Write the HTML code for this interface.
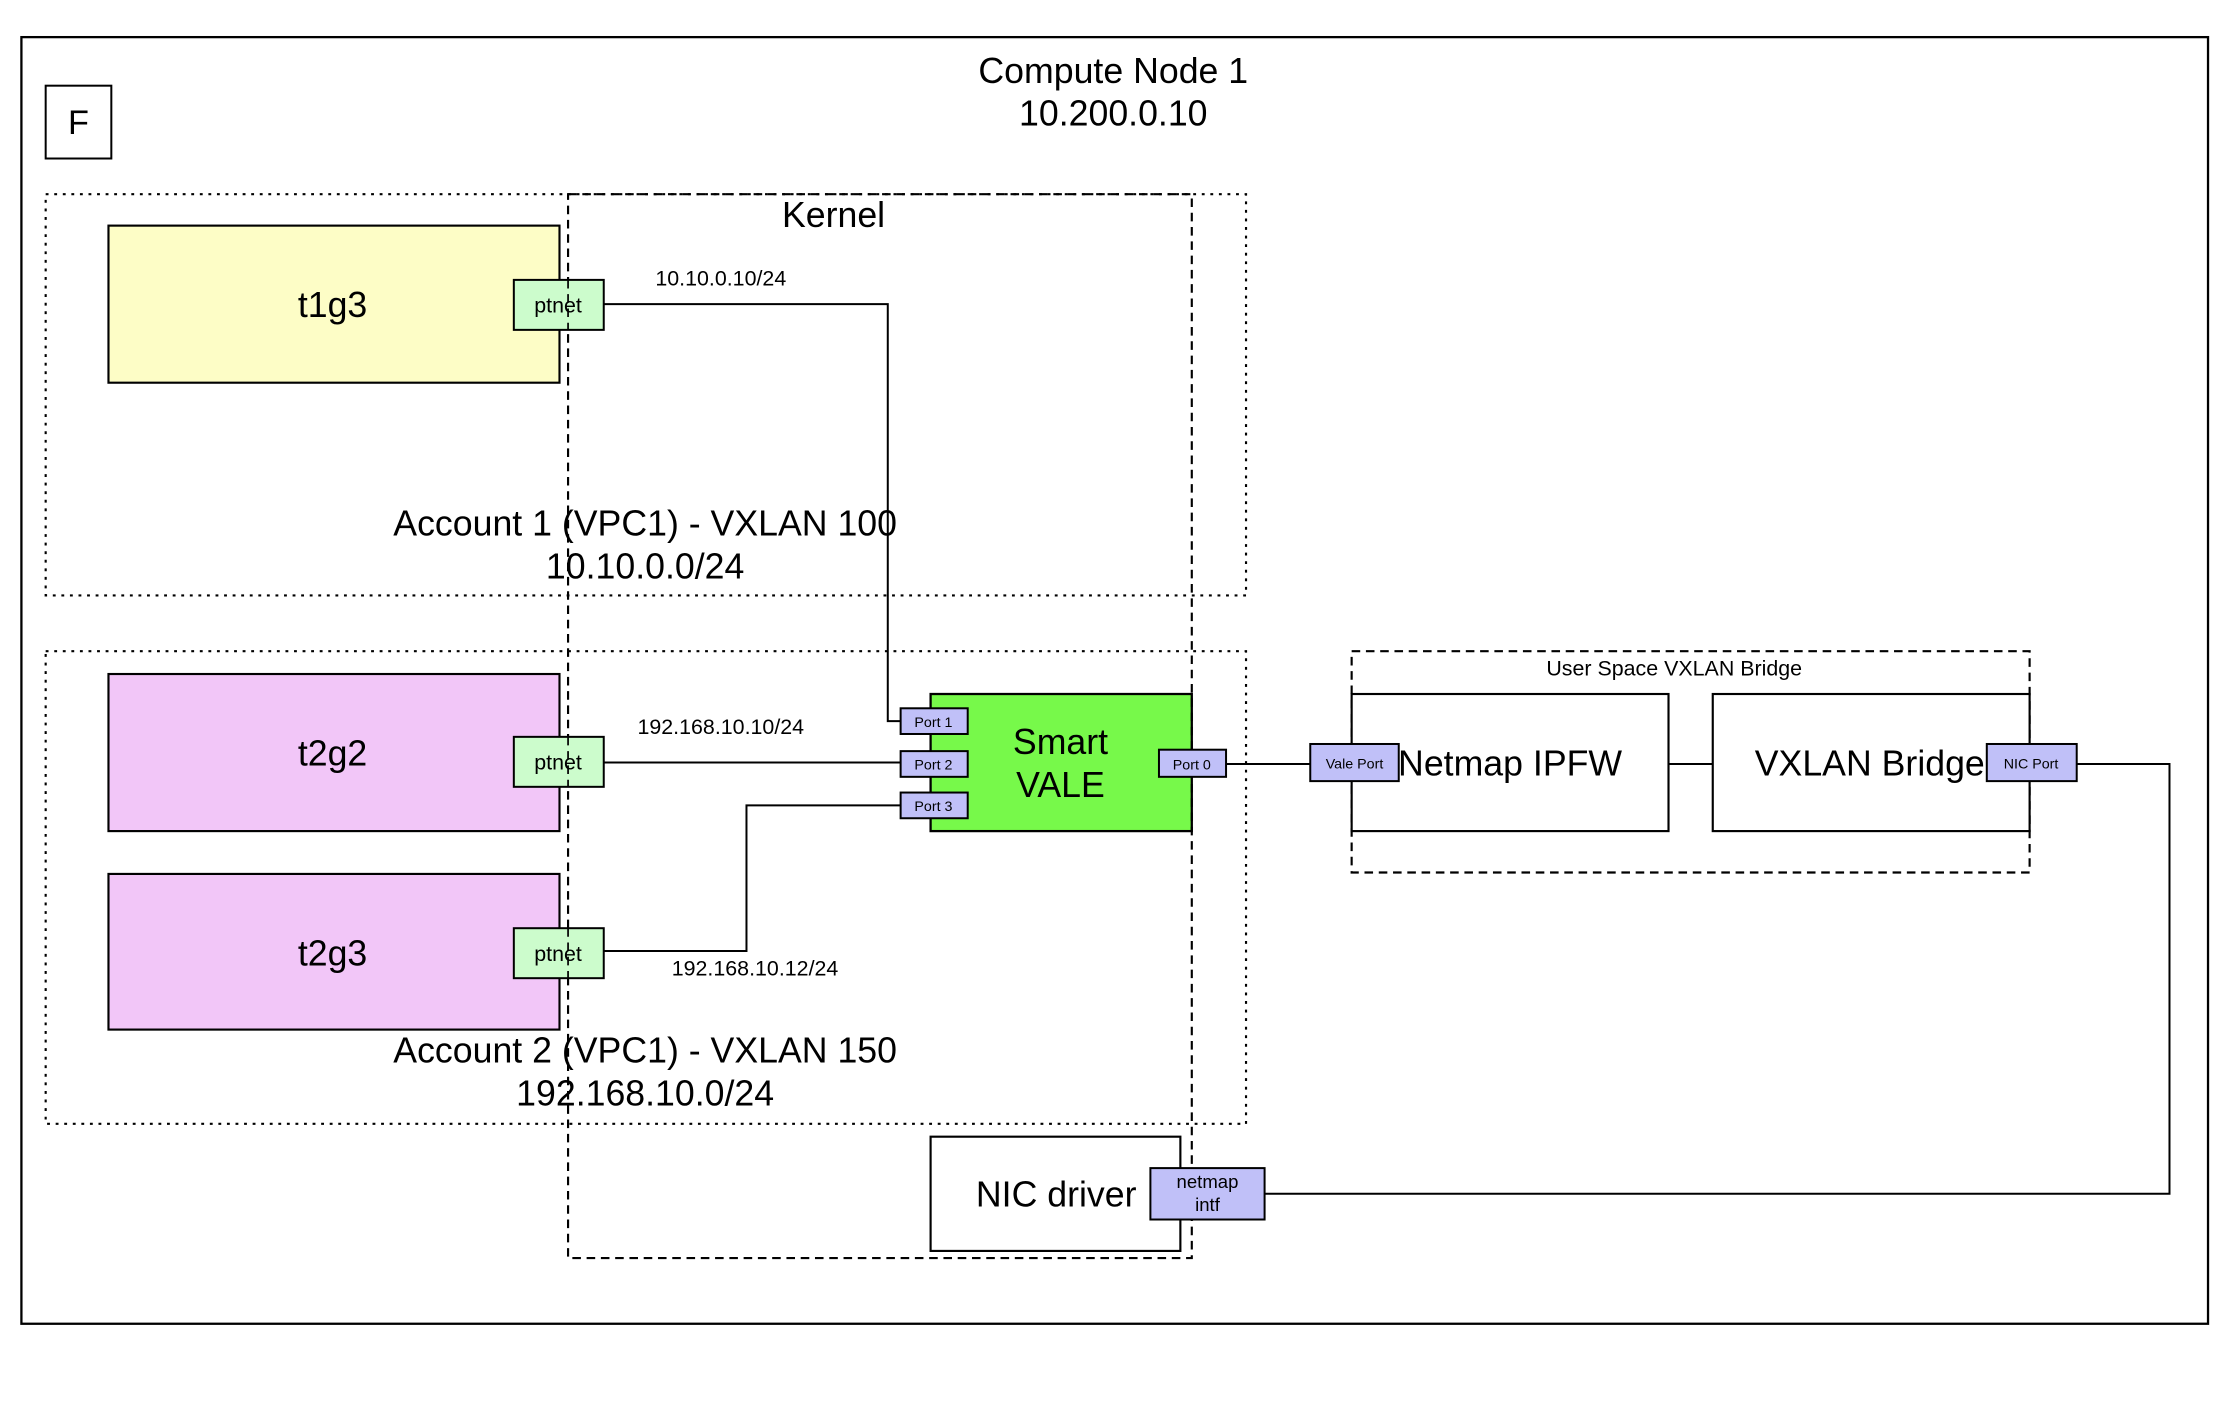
<!DOCTYPE html>
<html><head><meta charset="utf-8"><style>html,body{margin:0;padding:0;background:#fff}svg{display:block}</style></head>
<body>
<svg width="2238" height="1428" viewBox="0 0 1568 1000" preserveAspectRatio="none" xmlns="http://www.w3.org/2000/svg" font-family="Liberation Sans, sans-serif" text-anchor="middle">
<rect width="1568" height="1000" fill="#fff"/>
<rect x="15" y="26" width="1532" height="901" fill="none" stroke="#000" stroke-width="1.6"/>
<rect x="32" y="60" width="46" height="51" fill="none" stroke="#000" stroke-width="1.4"/>
<text x="55" y="94" font-size="24">F</text>
<text x="780" y="58" font-size="25">Compute Node 1</text>
<text x="780" y="88" font-size="25">10.200.0.10</text>
<rect x="32" y="136" width="841" height="281" fill="none" stroke="#000" stroke-width="1.5" stroke-dasharray="2,4"/>
<rect x="32" y="456" width="841" height="331" fill="none" stroke="#000" stroke-width="1.5" stroke-dasharray="2,4"/>
<rect x="76" y="158" width="316" height="110" fill="#fdfdc6" stroke="#000" stroke-width="1.5"/>
<text x="233" y="222" font-size="25">t1g3</text>
<rect x="76" y="472" width="316" height="110" fill="#f2c6f8" stroke="#000" stroke-width="1.5"/>
<text x="233" y="536" font-size="25">t2g2</text>
<rect x="76" y="612" width="316" height="109" fill="#f2c6f8" stroke="#000" stroke-width="1.5"/>
<text x="233" y="676" font-size="25">t2g3</text>
<g fill="none" stroke="#000" stroke-width="1.4">
<polyline points="423,213 622,213 622,505 631,505"/>
<line x1="423" y1="534" x2="631" y2="534"/>
<polyline points="423,666 523,666 523,564 631,564"/>
<line x1="859" y1="535" x2="918" y2="535"/>
<line x1="1169" y1="535" x2="1200" y2="535"/>
<polyline points="1455,535 1520,535 1520,836 886,836"/>
</g>
<rect x="652" y="486" width="183" height="96" fill="#77f94a" stroke="#000" stroke-width="1.6"/>
<text x="743" y="528" font-size="25">Smart</text>
<text x="743" y="558" font-size="25">VALE</text>
<rect x="947" y="456" width="475" height="155" fill="none" stroke="#000" stroke-width="1.5" stroke-dasharray="6,4"/>
<text x="1173" y="473" font-size="15">User Space VXLAN Bridge</text>
<rect x="947" y="486" width="222" height="96" fill="#fff" stroke="#000" stroke-width="1.5"/>
<text x="1058" y="543" font-size="25">Netmap IPFW</text>
<rect x="1200" y="486" width="222" height="96" fill="#fff" stroke="#000" stroke-width="1.5"/>
<text x="1310" y="543" font-size="25">VXLAN Bridge</text>
<rect x="652" y="796" width="175" height="80" fill="#fff" stroke="#000" stroke-width="1.5"/>
<text x="740" y="845" font-size="25">NIC driver</text>
<rect x="398" y="136" width="437" height="745" fill="none" stroke="#000" stroke-width="1.5" stroke-dasharray="6,4"/>
<text x="584" y="159" font-size="25">Kernel</text>
<g fill="#ccfccc" stroke="#000" stroke-width="1.4">
<rect x="360" y="196" width="63" height="35"/>
<rect x="360" y="516" width="63" height="35"/>
<rect x="360" y="650" width="63" height="35"/>
</g>
<line x1="398" y1="196" x2="398" y2="231" stroke="#000" stroke-width="1.2" stroke-dasharray="6,4"/>
<line x1="398" y1="516" x2="398" y2="551" stroke="#000" stroke-width="1.2" stroke-dasharray="6,4"/>
<line x1="398" y1="650" x2="398" y2="685" stroke="#000" stroke-width="1.2" stroke-dasharray="6,4"/>
<g font-size="15">
<text x="391" y="219">ptnet</text>
<text x="391" y="539">ptnet</text>
<text x="391" y="673">ptnet</text>
</g>
<g fill="#c0c0f8" stroke="#000" stroke-width="1.4">
<rect x="631" y="496" width="47" height="18"/>
<rect x="631" y="526" width="47" height="18"/>
<rect x="631" y="555" width="47" height="18"/>
<rect x="812" y="525" width="47" height="19"/>
<rect x="918" y="521" width="62" height="26"/>
<rect x="1392" y="521" width="63" height="26"/>
<rect x="806" y="818" width="80" height="36"/>
</g>
<g font-size="10">
<text x="654" y="509">Port 1</text>
<text x="654" y="539">Port 2</text>
<text x="654" y="568">Port 3</text>
<text x="835" y="539">Port 0</text>
<text x="949" y="538">Vale Port</text>
<text x="1423" y="538">NIC Port</text>
</g>
<g font-size="13">
<text x="846" y="832">netmap</text>
<text x="846" y="848">intf</text>
</g>
<g font-size="15">
<text x="505" y="200">10.10.0.10/24</text>
<text x="505" y="514">192.168.10.10/24</text>
<text x="529" y="683">192.168.10.12/24</text>
</g>
<g font-size="25">
<text x="452" y="375">Account 1 (VPC1) - VXLAN 100</text>
<text x="452" y="405">10.10.0.0/24</text>
<text x="452" y="744">Account 2 (VPC1) - VXLAN 150</text>
<text x="452" y="774">192.168.10.0/24</text>
</g>
</svg>
</body></html>
